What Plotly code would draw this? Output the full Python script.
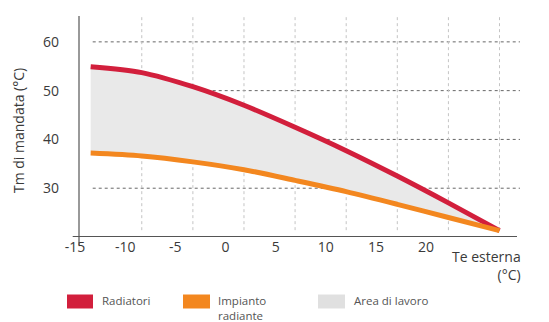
import plotly.graph_objects as go

# ---- data ----
te_esterna = [-15, -10, -5, 0, 5, 10, 15, 20, 25]
radiatori = [54.9, 53.7, 50.8, 47.0, 42.5, 37.7, 32.5, 27.0, 21.3]
impianto_radiante = [37.2, 36.6, 35.4, 33.8, 31.6, 29.3, 26.7, 24.0, 21.3]
x_tick_labels = ["-15", "-10", "-5", "0", "5", "10", "15", "20"]
y_tick_values = [30, 40, 50, 60]
grid_x = [-10, -5, 0, 5, 10, 15, 20, 25]
legend_labels = ["Radiatori", "Impianto<br>radiante", "Area di lavoro"]

RED = "#D21F3C"
ORANGE = "#F3871F"
FILL = "#E9E9E9"
TXT = "#3A3A3A"
FONT = "Open Sans"

W, H = 549, 322
L, R, T, B = 60, 27, 16, 85
PW, PH = W - L - R, H - T - B
XR = [-18.0, 27.2]
YR = [20.0, 65.3]


def px_x(p):
    return (p - L) / PW


def px_y(p):
    return (H - B - p) / PH


fig = go.Figure()
# lower boundary (no visible line)
fig.add_trace(go.Scatter(x=te_esterna, y=impianto_radiante, mode="lines",
                         line=dict(width=0, shape="spline", smoothing=0.8, color=ORANGE),
                         showlegend=False, hoverinfo="skip"))
# red with fill to the lower boundary
fig.add_trace(go.Scatter(x=te_esterna, y=radiatori, mode="lines", fill="tonexty",
                         fillcolor=FILL,
                         line=dict(width=5, shape="spline", smoothing=0.8, color=RED),
                         name="Radiatori", showlegend=False))
# visible orange line
fig.add_trace(go.Scatter(x=te_esterna, y=impianto_radiante, mode="lines",
                         line=dict(width=5, shape="spline", smoothing=0.8, color=ORANGE),
                         name="Impianto radiante", showlegend=False))

shapes = []
# horizontal dotted gridlines
for v in y_tick_values:
    shapes.append(dict(type="line", xref="x", yref="y", x0=-14.8, x1=27.0, y0=v, y1=v,
                       line=dict(color="#666666", width=1, dash="dot"), layer="below"))
# vertical light gridlines
for v in grid_x:
    shapes.append(dict(type="line", xref="x", yref="y", x0=v, x1=v, y0=21.4, y1=YR[1],
                       line=dict(color="#C4C4C4", width=1, dash="dot"), layer="below"))
# axis lines
shapes.append(dict(type="line", xref="paper", yref="paper", x0=px_x(72.7), x1=px_x(517),
                   y0=px_y(236.5), y1=px_y(236.5), line=dict(color="#555555", width=1.2)))
shapes.append(dict(type="line", xref="paper", yref="paper", x0=px_x(79), x1=px_x(79),
                   y0=px_y(245), y1=px_y(16), line=dict(color="#555555", width=1.2)))

# legend boxes
legend_boxes = [(67, 93, RED), (183, 210, ORANGE), (318, 345, "#E0E0E0")]
legend_text_x = [100, 216, 352]
annotations = []
for (x0, x1, c), tx, lab in zip(legend_boxes, legend_text_x, legend_labels):
    shapes.append(dict(type="rect", xref="paper", yref="paper", x0=px_x(x0), x1=px_x(x1),
                       y0=px_y(308.5), y1=px_y(294.5), fillcolor=c, line=dict(width=0)))
    annotations.append(dict(xref="paper", yref="paper", x=px_x(tx), y=px_y(290.5),
                            xanchor="left", yanchor="top", showarrow=False, text=lab,
                            align="left", font=dict(family=FONT, size=11.5, color="#555555")))

# x-axis end label
annotations.append(dict(xref="paper", yref="paper", x=px_x(486), y=px_y(245),
                        xanchor="center", yanchor="top", showarrow=False,
                        text="Te esterna<br>(°C)", align="right",
                        font=dict(family=FONT, size=14, color=TXT)))
# y title
annotations.append(dict(xref="paper", yref="paper", x=px_x(18), y=px_y(131),
                        xanchor="center", yanchor="middle", showarrow=False,
                        text="Tm di mandata (°C)", textangle=-90,
                        font=dict(family=FONT, size=14, color=TXT)))

# x tick label positions (labels sit slightly left of the gridlines in the original)
x_tick_pos = [-16.53 + 4.907 * k for k in range(len(x_tick_labels))]

fig.update_layout(
    width=W, height=H, margin=dict(l=L, r=R, t=T, b=B),
    paper_bgcolor="white", plot_bgcolor="white",
    shapes=shapes, annotations=annotations,
    xaxis=dict(range=XR, showgrid=False, zeroline=False, showline=False,
               tickmode="array", tickvals=x_tick_pos, ticktext=x_tick_labels,
               ticks="", tickfont=dict(family=FONT, size=14, color=TXT)),
    yaxis=dict(range=YR, showgrid=False, zeroline=False, showline=False,
               tickmode="array", tickvals=y_tick_values,
               ticks="", tickfont=dict(family=FONT, size=14, color=TXT)),
)

fig.write_html("out.html", config={"displayModeBar": False},
               post_script="document.body.style.margin='0px';")
